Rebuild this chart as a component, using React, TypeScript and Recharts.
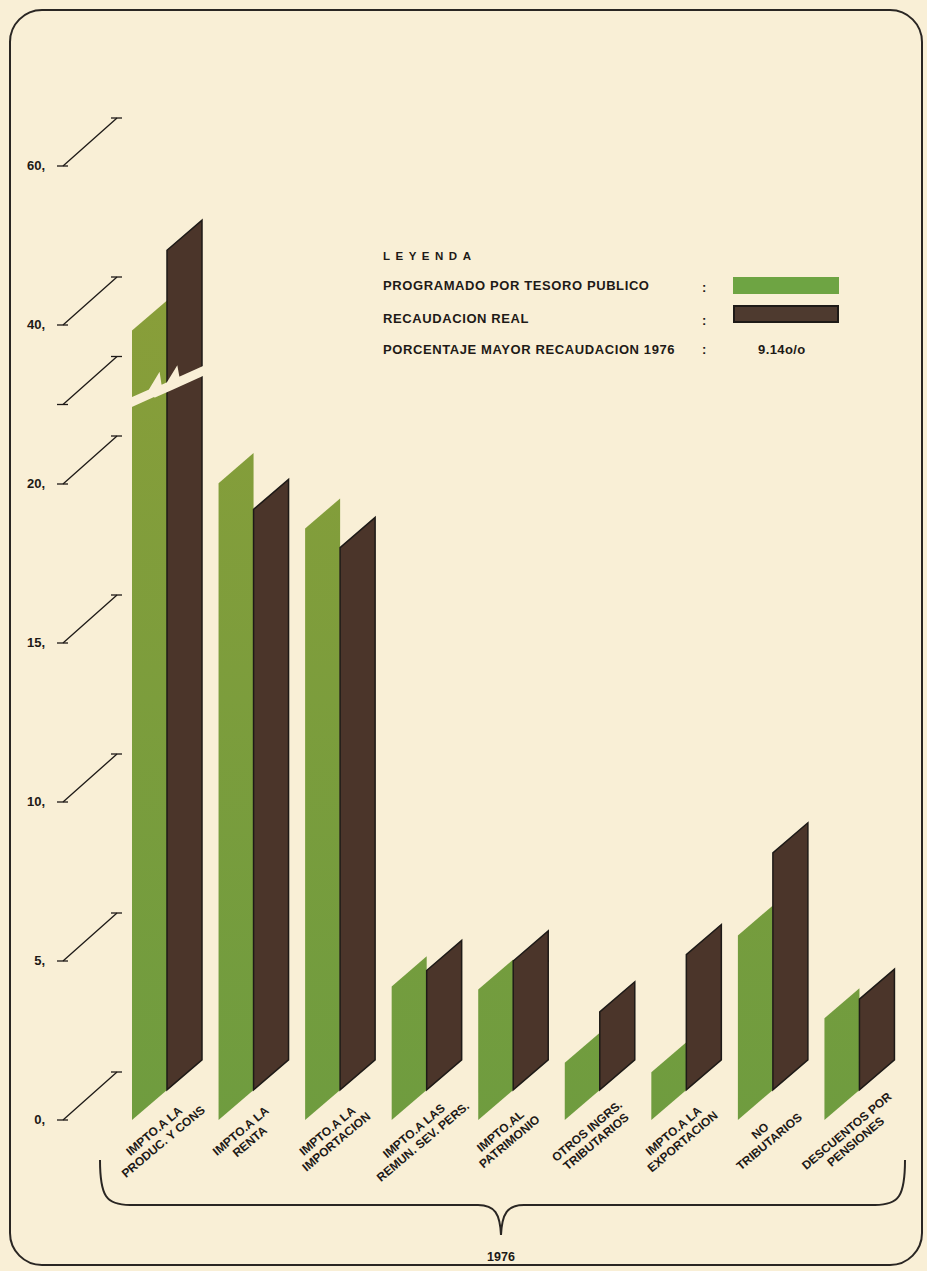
import React from 'react'
import { BarChart, Bar, XAxis, YAxis } from 'recharts'

// rubros 1976
const categories = [
  'IMPTO.A LA\nPRODUC. Y CONS',
  'IMPTO.A LA\nRENTA',
  'IMPTO.A LA\nIMPORTACION',
  'IMPTO.A LAS\nREMUN. SEV. PERS.',
  'IMPTO.AL\nPATRIMONIO',
  'OTROS INGRS.\nTRIBUTARIOS',
  'IMPTO.A LA\nEXPORTACION',
  'NO\nTRIBUTARIOS',
  'DESCUENTOS POR\nPENSIONES',
]
const programado = [39.3, 20.1, 18.6, 4.2, 4.1, 1.8, 1.5, 5.8, 3.2]
const recaudacion = [49.4, 19.2, 18.0, 4.7, 5.0, 3.4, 5.2, 8.4, 3.8]

const yTicks = [0, 5, 10, 15, 20, 30, 40, 60]
const yTickLabels = ['0,', '5,', '10,', '15,', '20,', '', '40,', '60,']

const BG = '#f9efd6'
const BROWN = '#4b352a'
const INK = '#1e1a17'
const FONT = '"Liberation Sans", Arial, Helvetica, sans-serif'
const SLANT = 0.86

// escala cortada: sobre 20 cada 4 unidades valen 1
const toDisplay = (v: number) => (v <= 20 ? v : 20 + (v - 20) / 4)

const data = categories.map((name, i) => ({
  name,
  prog: toDisplay(programado[i]),
  real: toDisplay(recaudacion[i]),
}))

function GreenShape(props: any) {
  const { x, y, width: w, height: h, index } = props
  const s = SLANT * w
  const pts = `${x},${y + h} ${x},${y} ${x + w},${y - s} ${x + w},${y + h - s}`
  const id = `gv${index}`
  return (
    <g>
      <defs>
        <linearGradient id={id} gradientUnits="userSpaceOnUse" x1={0} y1={250} x2={0} y2={1120}>
          <stop offset="0%" stopColor="#8a9e39" />
          <stop offset="100%" stopColor="#6f9c3f" />
        </linearGradient>
      </defs>
      <polygon points={pts} fill={`url(#${id})`} />
    </g>
  )
}

function BrownShape(props: any) {
  const { x, y, width: w, height: h, payload } = props
  const s = SLANT * w
  const pts = `${x},${y} ${x + w},${y - s} ${x + w},${y + h - 2 * s} ${x},${y + h - s}`
  const base = y + h
  const k = payload.real ? h / payload.real : 0
  let brk = null
  if (payload.prog > 22.6 || payload.real > 22.6) {
    const x0 = x - w - 2
    const y0 = base - 22.55 * k
    const zig = [
      [0, 0], [22, 0], [27, -6], [28, 1], [40, 1], [45, -5], [46, 1], [2 * w + 6, 1],
    ]
    const d = zig
      .map(([u, v], i) => `${i ? 'L' : 'M'}${x0 + u},${y0 - 0.45 * u + v}`)
      .join(' ')
    brk = <path d={d} fill="none" stroke={BG} strokeWidth={9} strokeLinejoin="miter" />
  }
  return (
    <g>
      <polygon points={pts} fill={BROWN} stroke={INK} strokeWidth={1.5} strokeLinejoin="miter" />
      {brk}
    </g>
  )
}

function YTick(props: any) {
  const { y, index } = props
  return (
    <g stroke={INK} strokeWidth={1.3}>
      <text
        x={45}
        y={y - 1}
        textAnchor="end"
        dominantBaseline="central"
        fontFamily={FONT}
        fontWeight="bold"
        fontSize={13}
        fill={INK}
        stroke="none"
      >
        {yTickLabels[index]}
      </text>
      <line x1={57} y1={y} x2={68} y2={y} />
      <line x1={63} y1={y} x2={117} y2={y - 48} />
      <line x1={111} y1={y - 48} x2={122} y2={y - 48} />
    </g>
  )
}

function XTick(props: any) {
  const { x, y, payload } = props
  const lines = String(payload.value).split('\n')
  return (
    <g transform={`translate(${x - 13},${y + 3}) rotate(-40)`}>
      {lines.map((t, i) => (
        <text
          key={i}
          x={0}
          y={i * 14}
          textAnchor="middle"
          dominantBaseline="central"
          fontFamily={FONT}
          fontWeight="bold"
          fontSize={12}
          fill={INK}
        >
          {t}
        </text>
      ))}
    </g>
  )
}

const legendText: React.CSSProperties = {
  position: 'absolute',
  left: 383,
  fontFamily: FONT,
  fontWeight: 'bold',
  fontSize: 13,
  letterSpacing: 0.6,
  color: INK,
  lineHeight: '16px',
  whiteSpace: 'nowrap',
}

export default function App() {
  const XH = 40
  return (
    <div
      style={{
        position: 'absolute',
        left: 0,
        top: 0,
        width: 927,
        height: 1271,
        background: BG,
        overflow: 'hidden',
      }}
    >
      <svg width={927} height={1271} style={{ position: 'absolute', left: 0, top: 0 }}>
        <rect x={10} y={10} width={912} height={1255} rx={32} fill="none" stroke="#2a2623" strokeWidth={2} />
        <path
          d="M100,1160 C100,1196 106,1205 130,1205 L478,1205 C495,1205 500,1214 501,1235 C502,1214 507,1205 524,1205 L875,1205 C899,1205 905,1196 905,1160"
          fill="none"
          stroke="#2a2623"
          strokeWidth={2}
        />
        <text x={501} y={1257} textAnchor="middle" dominantBaseline="central" fontFamily={FONT} fontWeight="bold" fontSize={12.5} fill={INK}>
          1976
        </text>
      </svg>
      <div style={{ position: 'absolute', left: 0, top: 0 }}>
        <BarChart
          width={927}
          height={1271}
          data={data}
          margin={{ top: 166, right: 24, bottom: 1271 - 1120 - XH, left: 0 }}
          barGap={0}
          barSize={35}
        >
          <XAxis
            dataKey="name"
            height={XH}
            axisLine={false}
            tickLine={false}
            interval={0}
            tick={(p: any) => <XTick {...p} />}
          />
          <YAxis
            type="number"
            domain={[0, 30]}
            ticks={yTicks.map(toDisplay)}
            width={124}
            axisLine={false}
            tickLine={false}
            allowDataOverflow
            tick={(p: any) => <YTick {...p} />}
          />
          <Bar dataKey="prog" fill="#7a9d3b" shape={GreenShape} isAnimationActive={false} />
          <Bar dataKey="real" fill={BROWN} shape={BrownShape} isAnimationActive={false} />
        </BarChart>
      </div>
      <div style={{ ...legendText, top: 248, fontSize: 11.5, letterSpacing: 5.5 }}>LEYENDA</div>
      <div style={{ ...legendText, top: 278 }}>PROGRAMADO POR TESORO PUBLICO</div>
      <div style={{ ...legendText, top: 311 }}>RECAUDACION REAL</div>
      <div style={{ ...legendText, top: 342 }}>PORCENTAJE MAYOR RECAUDACION 1976</div>
      <div style={{ ...legendText, left: 702, top: 280 }}>:</div>
      <div style={{ ...legendText, left: 702, top: 313 }}>:</div>
      <div style={{ ...legendText, left: 702, top: 342 }}>:</div>
      <div style={{ position: 'absolute', left: 733, top: 277, width: 106, height: 17, background: '#6ea443' }} />
      <div
        style={{
          position: 'absolute',
          left: 733,
          top: 305,
          width: 102,
          height: 14,
          background: '#4e3a2f',
          border: `2px solid ${INK}`,
        }}
      />
      <div style={{ ...legendText, left: 758, top: 342, fontSize: 13, letterSpacing: 0.4 }}>9.14o/o</div>
    </div>
  )
}
